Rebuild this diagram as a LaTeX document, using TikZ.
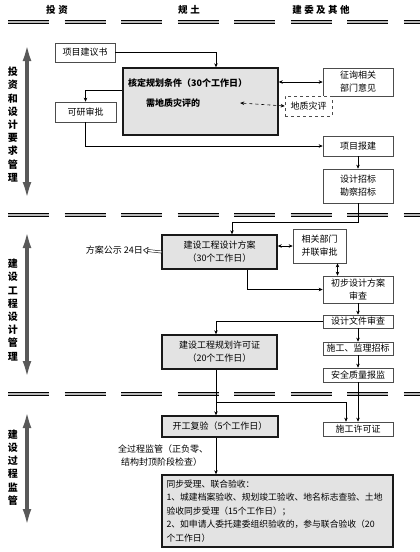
\documentclass[tikz,border=0pt]{standalone}
\usepackage{fontspec}
\setmainfont{Noto Sans CJK SC}
\usetikzlibrary{arrows.meta,positioning}

\begin{document}
\begin{tikzpicture}[
    x=1pt, y=-1pt,
    box/.style={
        rectangle,
        draw=black!70,
        line width=0.6pt,
        fill=white,
        inner sep=0pt,
        align=center,
        font=\fontsize{9}{13}\selectfont
    },
    keybox/.style={box, draw=black!90, line width=1.4pt, fill=gray!22},
    arrow/.style={-{Stealth[length=4pt,width=3.5pt]}, line width=0.6pt},
    twoway/.style={{Stealth[length=4pt,width=3.5pt]}-{Stealth[length=4pt,width=3.5pt]}, line width=0.6pt},
    hollow/.style={-{Triangle[open,length=5pt,width=7pt]}, double=white, double distance=1.6pt, line width=0.5pt},
    sep/.style={draw=black, line width=1.6pt, double=gray!55, double distance=1.1pt, dash pattern=on 41pt off 15.5pt, dash phase=48.5pt},
    phase/.style={{Latex[length=26pt,width=8pt]}-{Latex[length=26pt,width=8pt]}, line width=4pt, draw=black!65},
    head/.style={font=\fontsize{9.5}{11}\selectfont\bfseries},
    side/.style={font=\fontsize{10}{13.2}\selectfont\bfseries, align=center, inner sep=0pt},
    note/.style={font=\fontsize{9}{13}\selectfont, align=left, inner sep=0pt}
]
\useasboundingbox (0,0) rectangle (420,552);

% Column heads and separators
\node[head] (colA) at (57,10) {投\hspace{3pt}资};
\node[head] (colB) at (189,10) {规\hspace{3pt}土};
\node[head] (colC) at (321,10) {建\hspace{2.5pt}委\hspace{2.5pt}及\hspace{2.5pt}其\hspace{2.5pt}他};
\draw[sep] (0,22) -- (420,22);
\draw[sep] (0,215) -- (420,215);
\draw[sep] (0,394) -- (420,394);

% Phases
\draw[phase] (27,35) -- (27,208);
\draw[phase] (27,222) -- (27,387);
\draw[phase] (27,402) -- (27,535);
\node[side] (ph1) at (13,124.5) {投\\资\\和\\设\\计\\要\\求\\管\\理};
\node[side] (ph2) at (13,310) {建\\设\\工\\程\\设\\计\\管\\理};
\node[side] (ph3) at (13,467.5) {建\\设\\过\\程\\监\\管};

% Nodes, phase 1
\node[box, minimum width=60, minimum height=19] (jy) at (85,52.5) {项目建议书};
\node[keybox, minimum width=155, minimum height=67] (hd) at (200.5,101.5) {};
\node[anchor=west, inner sep=0pt, font=\fontsize{9}{11}\selectfont\bfseries] (hdt) at (128,83) {核定规划条件（30个工作日）};
\node[inner sep=0pt, font=\fontsize{9}{11}\selectfont\bfseries] (xz) at (173,103) {需地质灾评的};
\node[box, minimum width=61, minimum height=20] (ky) at (85.5,112) {可研审批};
\node[box, minimum width=70, minimum height=28] (zx) at (358,82) {征询相关\\部门意见};
\node[box, dashed, minimum width=47, minimum height=20] (dz) at (308.5,106) {地质灾评};
\node[box, minimum width=70, minimum height=20] (xmbj) at (358,146) {项目报建};
\node[box, minimum width=70, minimum height=34] (sjzb) at (358,186) {设计招标\\勘察招标};

% Nodes, phase 2
\node[keybox, minimum width=115, minimum height=34] (fa) at (219.5,252) {建设工程设计方案\\（30个工作日）};
\node[anchor=east, inner sep=0pt, font=\fontsize{9}{11}\selectfont] (gs) at (143,250) {方案公示 24日};
\node[box, minimum width=53, minimum height=34] (xg) at (319.5,246) {相关部门\\并联审批};
\node[box, minimum width=70, minimum height=27] (cb) at (358,289.5) {初步设计方案\\审查};
\node[box, minimum width=70, minimum height=13] (wj) at (358,321.5) {设计文件审查};
\node[box, minimum width=70, minimum height=13] (sg) at (358,348.5) {施工、监理招标};
\node[box, minimum width=70, minimum height=14] (aq) at (358,375) {安全质量报监};
\node[keybox, minimum width=115, minimum height=34] (gh) at (219.5,352) {建设工程规划许可证\\（20个工作日）};

% Nodes, phase 3
\node[box, minimum width=70, minimum height=14] (sgxk) at (358,429) {施工许可证};
\node[keybox, minimum width=116, minimum height=21] (kg) at (220,426.5) {开工复验（5个工作日）};
\node[note, anchor=west] (qgc) at (118,455.5) {全过程监管（正负零、\\\hspace{3pt}结构封顶阶段检查）};
\node[keybox, align=left, text width=222, inner xsep=4.5pt, minimum height=72, font=\fontsize{8.8}{13.5}\selectfont] (ys) at (277.5,511) {同步受理、联合验收：\\1、城建档案验收、规划竣工验收、地名标志查验、土地\\验收同步受理（15个工作日）；\\2、如申请人委托建委组织验收的，参与联合验收（20\\个工作日）};
\coordinate (fork) at (216,402);

% Connectors, phase 1
\draw[arrow] (jy.east) -| ([xshift=15.5pt]hd.north);
\draw[arrow] ([yshift=11.5pt]hd.west) -| (ky.north);
\draw[arrow] (ky.south) |- (xmbj.west);
\draw[twoway] (zx.west) -- (zx.west -| hd.east);
\draw[twoway, dashed] (dz.west) -- ([xshift=40pt]xz.east);
\draw[arrow] (xmbj) -- (sjzb);
\draw[arrow] (sjzb.south) -- ++(0,19) -| ([xshift=12.5pt]fa.north);

% Connectors, phase 2
\draw[hollow] (fa.west) -- (gs.east);
\draw[twoway] (xg.west) -- (xg.west -| fa.east);
\draw[twoway] ([xshift=18pt]xg.south) -- ([xshift=18pt]xg.south |- cb.north);
\draw[arrow] ([xshift=27.5pt]fa.south) |- (cb.west);
\draw[arrow] (cb) -- (wj);
\draw[arrow] (wj.west) -| ([xshift=-3.5pt]gh.north);
\draw[arrow] (wj) -- (sg);
\draw[arrow] (sg) -- (aq);

% Connectors, phase 3
\draw[arrow] (aq) -- (sgxk);
\draw[arrow] ([xshift=-3.5pt]gh.south) -- (fork |- kg.north);
\draw[arrow] (fork) -| ([xshift=-12pt]sgxk.north);
\draw[arrow] ([xshift=-4pt]kg.south) -- ([xshift=-4pt]kg.south |- ys.north);

\end{tikzpicture}
\end{document}
